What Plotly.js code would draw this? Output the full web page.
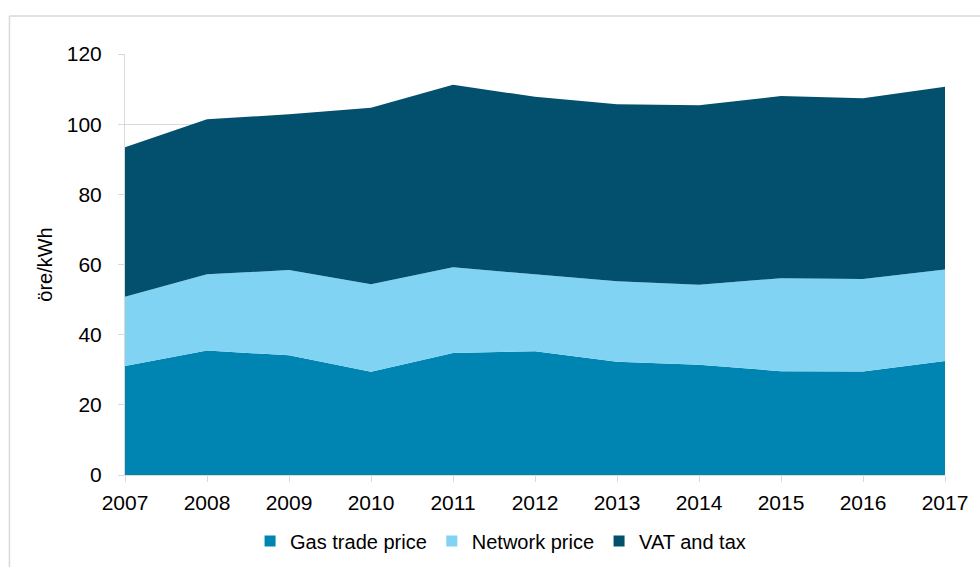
<!DOCTYPE html>
<html>
<head>
<meta charset="utf-8">
<script src="https://cdn.plot.ly/plotly-3.0.1.min.js"></script>
<style>
  html, body { margin: 0; padding: 0; background: #fff; }
  #chart { width: 980px; height: 567px; }
</style>
</head>
<body>
<div id="chart"></div>
<script>
// öre/kWh per component
const years = [2007, 2008, 2009, 2010, 2011, 2012, 2013, 2014, 2015, 2016, 2017];
const gasTradePrice = [31.1, 35.5, 34.1, 29.4, 34.8, 35.3, 32.3, 31.4, 29.6, 29.5, 32.5];
const networkPrice = [19.7, 21.7, 24.3, 25.0, 24.4, 21.9, 22.9, 22.8, 26.5, 26.4, 26.1];
const vatAndTax = [42.6, 44.2, 44.4, 50.3, 52.0, 50.6, 50.5, 51.2, 51.9, 51.5, 52.1];
const seriesNames = ['Gas trade price', 'Network price', 'VAT and tax'];
const yTicks = [0, 20, 40, 60, 80, 100, 120];

const FONT = 'Liberation Sans, Arial, sans-serif';
const GRID = '#d9d9d9';
const COLORS = ['#0085b2', '#80d3f3', '#03506e'];

function areaTrace(name, values, color) {
  return {
    name,
    x: years,
    y: values,
    type: 'scatter',
    mode: 'lines',
    stackgroup: 'one',
    line: { width: 0, color },
    fillcolor: color,
    showlegend: false,
  };
}

// legend-only entries so the legend shows small squares like the original
function legendKey(name, color) {
  return {
    name,
    x: [null],
    y: [null],
    type: 'scatter',
    mode: 'markers',
    marker: { symbol: 'square', size: 11, color },
    hoverinfo: 'skip',
  };
}

const traces = [
  areaTrace(seriesNames[0], gasTradePrice, COLORS[0]),
  areaTrace(seriesNames[1], networkPrice, COLORS[1]),
  areaTrace(seriesNames[2], vatAndTax, COLORS[2]),
  ...seriesNames.map((n, i) => legendKey(n, COLORS[i])),
];

const layout = {
  width: 980,
  height: 567,
  margin: { l: 125, r: 35, t: 54, b: 92 },
  paper_bgcolor: '#ffffff',
  plot_bgcolor: '#ffffff',
  font: { family: FONT, size: 20, color: '#000000' },
  showlegend: true,
  legend: {
    orientation: 'h',
    x: 0.458,
    xanchor: 'center',
    yref: 'container',
    y: 0.046,
    yanchor: 'middle',
    font: { family: FONT, size: 20, color: '#000000' },
    traceorder: 'normal',
    itemwidth: 30,
  },
  xaxis: {
    range: [2007, 2017],
    tickvals: years,
    ticktext: years.map(String),
    showgrid: false,
    zeroline: false,
    showline: true,
    linecolor: GRID,
    linewidth: 1,
    ticks: 'outside',
    ticklen: 6,
    tickcolor: GRID,
    ticklabelstandoff: 3,
    tickfont: { family: FONT, size: 21 },
    fixedrange: true,
  },
  yaxis: {
    range: [0, 120],
    tickvals: yTicks,
    showgrid: true,
    gridcolor: GRID,
    gridwidth: 1,
    zeroline: false,
    showline: true,
    linecolor: GRID,
    linewidth: 1,
    ticks: 'outside',
    ticklen: 6,
    tickcolor: GRID,
    ticklabelstandoff: 12,
    tickfont: { family: FONT, size: 21 },
    title: { text: 'öre/kWh', font: { family: FONT, size: 20 }, standoff: 8 },
    fixedrange: true,
  },
  shapes: [
    // outer frame: only top and left edges show in the picture
    { type: 'line', xref: 'paper', yref: 'paper', x0: -0.1409, x1: 1.05, y0: 1.0903, y1: 1.0903,
      line: { color: GRID, width: 1.5 } },
    { type: 'line', xref: 'paper', yref: 'paper', x0: -0.1409, x1: -0.1409, y0: -0.23, y1: 1.0903,
      line: { color: GRID, width: 1.5 } },
  ],
};

Plotly.newPlot('chart', traces, layout, { displayModeBar: false, staticPlot: true });
</script>
</body>
</html>
